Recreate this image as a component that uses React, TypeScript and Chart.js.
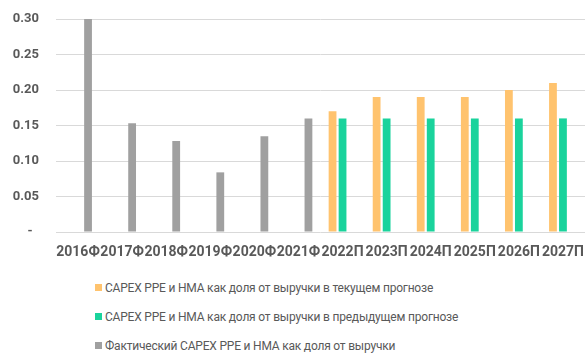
import React, { useEffect, useRef } from "react";
import { Chart, registerables } from "chart.js";

Chart.register(...registerables);

const categories = ["2016Ф", "2017Ф", "2018Ф", "2019Ф", "2020Ф", "2021Ф", "2022П", "2023П", "2024П", "2025П", "2026П", "2027П"];
const currentForecast = [null, null, null, null, null, null, 0.17, 0.19, 0.19, 0.19, 0.2, 0.21];
const previousForecast = [null, null, null, null, null, null, 0.16, 0.16, 0.16, 0.16, 0.16, 0.16];
const actual = [0.3, 0.153, 0.128, 0.084, 0.135, 0.16, null, null, null, null, null, null];
const seriesNames = [
  "CAPEX PPE и НМА как доля от выручки в текущем прогнозе",
  "CAPEX PPE и НМА как доля от выручки в предыдущем прогнозе",
  "Фактический CAPEX PPE и НМА как доля от выручки",
];
const seriesColors = ["#FFC36E", "#1AD39C", "#A0A0A0"];

const FONT = "Roboto, 'Open Sans', 'Noto Sans', sans-serif";

const zeroPad = (s: any) => {
  s.paddingTop = 0;
  s.paddingBottom = 0;
  s.paddingLeft = 0;
  s.paddingRight = 0;
};

export default function App() {
  const ref = useRef<HTMLCanvasElement>(null);

  useEffect(() => {
    document.body.style.margin = "0";
    const ctx = ref.current!;
    const datasets = [currentForecast, previousForecast, actual].map((d, i) => ({
      label: seriesNames[i],
      data: d,
      backgroundColor: seriesColors[i],
      categoryPercentage: 0.68,
      barPercentage: 0.78,
    }));
    const chart = new Chart(ctx, {
      type: "bar",
      data: { labels: categories, datasets: datasets as any },
      options: {
        animation: false,
        responsive: false,
        maintainAspectRatio: false,
        layout: { autoPadding: false, padding: { top: 19, left: 0, right: 1, bottom: 0 } },
        plugins: { legend: { display: false }, tooltip: { enabled: false } },
        scales: {
          x: {
            afterFit: (s: any) => {
              s.height = 40;
              zeroPad(s);
            },
            grid: { display: false, drawTicks: false },
            border: { display: false },
            ticks: {
              autoSkip: false,
              maxRotation: 0,
              minRotation: 0,
              padding: 12,
              color: "#595959",
              font: { family: FONT, size: 14, weight: "bold" },
            },
          },
          y: {
            min: 0,
            max: 0.3,
            afterFit: (s: any) => {
              s.width = 56;
              zeroPad(s);
            },
            grid: { color: "#D9D9D9", lineWidth: 1, drawTicks: false },
            border: { display: false },
            ticks: {
              stepSize: 0.05,
              padding: 17,
              color: "#595959",
              font: { family: FONT, size: 13, weight: "bold" },
              callback: (v: any) => (Math.abs(Number(v)) < 1e-9 ? "-  " : Number(v).toFixed(2)),
            },
          },
        },
      },
    });
    return () => chart.destroy();
  }, []);

  return (
    <div style={{ position: "relative", width: 586, height: 354, background: "#fff", fontFamily: FONT }}>
      <canvas ref={ref} width={586} height={272} style={{ display: "block", width: 586, height: 272 }} />
      <div style={{ position: "absolute", left: 95, top: 273 }}>
        {seriesNames.map((n, i) => (
          <div key={n} style={{ display: "flex", alignItems: "center", height: 29, color: "#595959", fontSize: 12, letterSpacing: "-0.2px", whiteSpace: "nowrap" }}>
            <span style={{ display: "inline-block", width: 7, height: 7, background: seriesColors[i], marginRight: 3 }} />
            <span>{n}</span>
          </div>
        ))}
      </div>
    </div>
  );
}
